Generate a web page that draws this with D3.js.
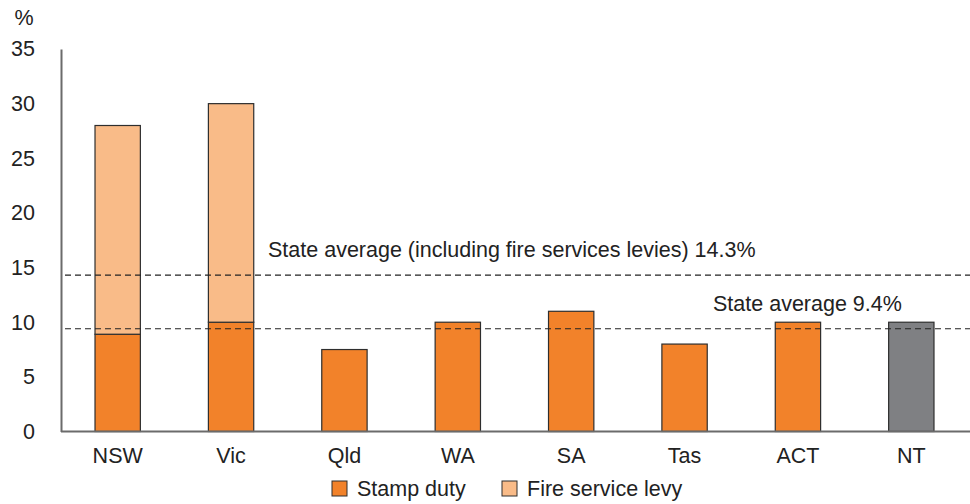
<!DOCTYPE html>
<html>
<head>
<meta charset="utf-8">
<script src="https://cdn.jsdelivr.net/npm/d3@7/dist/d3.min.js"></script>
<style>
  html, body { margin: 0; padding: 0; background: #fff; }
  svg { display: block; font-family: "Liberation Sans", Arial, sans-serif; }
</style>
</head>
<body>
<svg id="chart" width="970" height="504"></svg>
<script>
// Insurance taxes by state, per cent of premium
const categories = ["NSW", "Vic", "Qld", "WA", "SA", "Tas", "ACT", "NT"];
const stampDuty = [8.9, 10, 7.5, 10, 11, 8, 10, 10];
const fireLevy = [19.1, 20, 0, 0, 0, 0, 0, 0];
const yTicks = [0, 5, 10, 15, 20, 25, 30, 35];
const averages = [
  { value: 14.3, label: "State average (including fire services levies) 14.3%" },
  { value: 9.4, label: "State average 9.4%" }
];
const legendItems = ["Stamp duty", "Fire service levy"];

const colStamp = "#f2822a";
const colFire = "#f9bb88";
const colOther = "#7f8083";
const strokeCol = "#2e2e2e";
const axisCol = "#6b6b6b";
const fontSize = 21.5;

const svg = d3.select("#chart");
const margin = { left: 61, right: 2, top: 49, bottom: 73 };
const W = 970, H = 504;

const x = d3.scaleBand().domain(categories)
  .range([margin.left, W - margin.right])
  .paddingInner(0.6).paddingOuter(0.3);
const y = d3.scaleLinear().domain([0, 35]).range([H - margin.bottom + 0.5, margin.top]);

const rows = categories.map((c, i) => ({ cat: c, stamp: stampDuty[i], fire: fireLevy[i] }));

// stamp duty segments
svg.append("g").selectAll("rect").data(rows).join("rect")
  .attr("x", d => x(d.cat))
  .attr("width", x.bandwidth())
  .attr("y", d => y(d.stamp))
  .attr("height", d => y(0) - y(d.stamp))
  .attr("fill", d => d.cat === "NT" ? colOther : colStamp)
  .attr("stroke", strokeCol).attr("stroke-width", 1.2);

// fire service levy segments stacked on top
svg.append("g").selectAll("rect").data(rows.filter(d => d.fire > 0)).join("rect")
  .attr("x", d => x(d.cat))
  .attr("width", x.bandwidth())
  .attr("y", d => y(d.stamp + d.fire))
  .attr("height", d => y(d.stamp) - y(d.stamp + d.fire))
  .attr("fill", colFire)
  .attr("stroke", strokeCol).attr("stroke-width", 1.2);

// y axis
const yAxis = svg.append("g")
  .attr("transform", `translate(${margin.left},0)`)
  .call(d3.axisLeft(y).tickValues(yTicks).tickSize(0).tickPadding(26));
yAxis.select(".domain").attr("stroke", axisCol).attr("stroke-width", 2);
yAxis.selectAll("text").attr("font-size", fontSize).attr("fill", "#222")
  .attr("font-family", "Liberation Sans, Arial, sans-serif");

// x axis
const xAxis = svg.append("g")
  .attr("transform", `translate(0,${y(0)})`)
  .call(d3.axisBottom(x).tickSize(0).tickPadding(16));
xAxis.select(".domain").attr("stroke", axisCol).attr("stroke-width", 2)
  .attr("d", `M${margin.left},0H${W}`);
xAxis.selectAll("text").attr("font-size", fontSize).attr("fill", "#222")
  .attr("font-family", "Liberation Sans, Arial, sans-serif");

// unit label
svg.append("text").attr("x", 24).attr("y", 25).attr("text-anchor", "middle")
  .attr("font-size", fontSize).attr("fill", "#222").text("%");

// average reference lines
const avgG = svg.append("g");
avgG.selectAll("line").data(averages).join("line")
  .attr("x1", margin.left + 4).attr("x2", W)
  .attr("y1", d => y(d.value)).attr("y2", d => y(d.value))
  .attr("stroke", "#222").attr("stroke-width", 1.2)
  .attr("stroke-dasharray", "6,4");
const labelX = [268, 713];
avgG.selectAll("text").data(averages).join("text")
  .attr("x", (d, i) => labelX[i])
  .attr("y", d => y(d.value) - 18)
  .attr("font-size", fontSize).attr("fill", "#222")
  .text(d => d.label);

// legend
const legendX = [332, 502];
const legendCols = [colStamp, colFire];
const lg = svg.append("g").selectAll("g").data(legendItems).join("g")
  .attr("transform", (d, i) => `translate(${legendX[i]},481)`);
lg.append("rect").attr("width", 15).attr("height", 15)
  .attr("fill", (d, i) => legendCols[i])
  .attr("stroke", strokeCol).attr("stroke-width", 1);
lg.append("text").attr("x", 25).attr("y", 15)
  .attr("font-size", fontSize).attr("fill", "#222").text(d => d);
</script>
</body>
</html>
